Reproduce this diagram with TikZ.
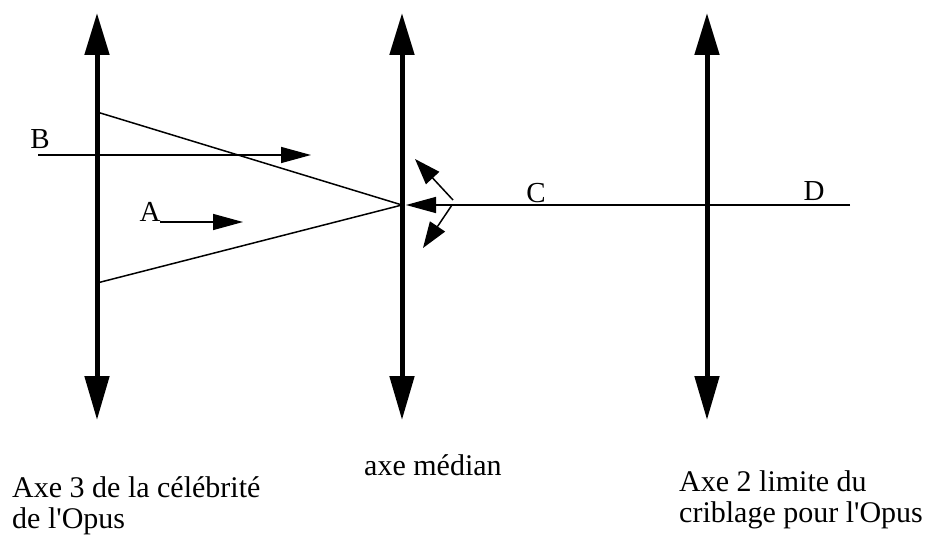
\documentclass[tikz,border=0pt]{standalone}
\usepackage{fontspec}
\setmainfont{Liberation Serif}
\usetikzlibrary{arrows.meta}
\begin{document}
\begin{tikzpicture}[x=1pt,y=-1pt,
  axisline/.style={line width=5pt,{Triangle[length=42pt,width=24pt]}-{Triangle[length=44pt,width=24pt]}},
  thinline/.style={line width=1.5pt},
  ray/.style={thinline,-{Triangle[length=30pt,width=16pt]}},
  smallarrow/.style={thinline,-{Triangle[length=26pt,width=18pt]}},
  lbl/.style={inner sep=0pt,font=\fontsize{29}{30}\selectfont},
  captxt/.style={inner sep=0pt,align=left,font=\fontsize{30}{31}\selectfont,anchor=base west}]
\useasboundingbox (0,0) rectangle (927,540);
% axes
\coordinate (a1t) at (97,13);  \coordinate (a1b) at (97,420);
\coordinate (a2t) at (402,13); \coordinate (a2b) at (402,420);
\coordinate (a3t) at (707,13); \coordinate (a3b) at (707,420);
\draw[axisline] (a1t) -- (a1b);
\draw[axisline] (a2t) -- (a2b);
\draw[axisline] (a3t) -- (a3b);
% triangle
\coordinate (tt) at (97,112);
\coordinate (tb) at (97,283);
\coordinate (tp) at (402,205);
\draw[thinline] (tt) -- (tp) -- (tb);
% B ray
\coordinate (bs) at (38,155); \coordinate (be) at (311,155);
\draw[ray] (bs) -- (be);
% A ray
\coordinate (as) at (160,222); \coordinate (ae) at (243,222);
\draw[ray] (as) -- (ae);
% CD line
\coordinate (ds) at (850,205); \coordinate (ce) at (406,205);
\draw[ray] (ds) -- (ce);
% small reflected arrows
\coordinate (r0) at (453,200); \coordinate (r1) at (415,159);
\coordinate (s0) at (452,205); \coordinate (s1) at (423,248);
\draw[smallarrow] (r0) -- (r1);
\draw[smallarrow] (s0) -- (s1);
% labels
\node[lbl] (B) at (40,139) {B};
\node[lbl] (A) at (150,212) {A};
\node[lbl] (C) at (536,193) {C};
\node[lbl] (D) at (814,191) {D};
\node[captxt] (t1) at (12,528) {Axe 3 de la célébrité\\de l\textquotesingle Opus};
\node[captxt] (t2) at (364,475) {axe médian};
\node[captxt] (t3) at (679,522) {Axe 2 limite du\\criblage pour l\textquotesingle Opus};
\end{tikzpicture}
\end{document}
